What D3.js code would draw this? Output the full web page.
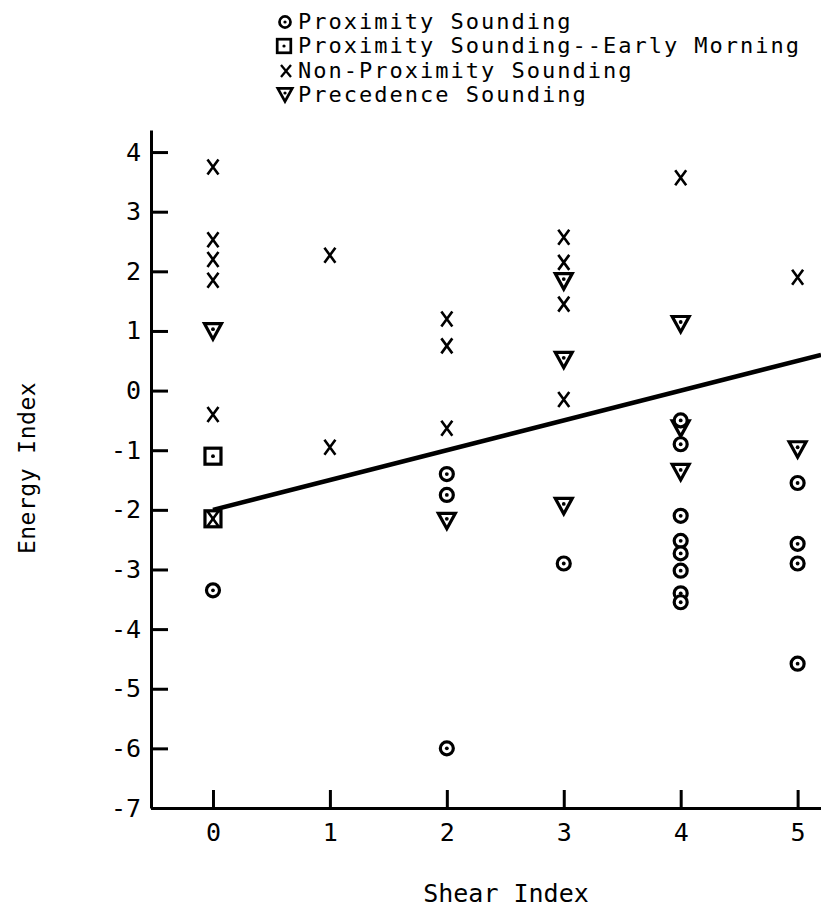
<!DOCTYPE html>
<html>
<head>
<meta charset="utf-8">
<script src="https://cdn.jsdelivr.net/npm/d3@7"></script>
<style>
body { margin: 0; background: #fff; }
text { font-family: "DejaVu Sans Mono", monospace; fill: #000; }
</style>
</head>
<body>
<div id="scatter"></div>
<script>
// values
var proxShear  = [0, 2, 2, 2, 3, 4, 4, 4, 4, 4, 4, 4, 4, 5, 5, 5, 5];
var proxEnergy = [-3.35, -1.4, -1.75, -6.0, -2.9, -0.5, -0.9, -2.1, -2.52, -2.73, -3.02, -3.4, -3.55, -1.55, -2.57, -2.9, -4.58];

var earlyShear  = [0, 0];
var earlyEnergy = [-1.1, -2.15];

var nonShear  = [0, 0, 0, 0, 0, 0, 1, 1, 2, 2, 2, 3, 3, 3, 3, 4, 5];
var nonEnergy = [3.75, 2.53, 2.2, 1.85, -0.4, -2.15, 2.27, -0.95, 1.2, 0.75, -0.63, 2.57, 2.15, 1.45, -0.15, 3.57, 1.9];

var precShear  = [0, 2, 3, 3, 3, 4, 4, 4, 5];
var precEnergy = [1.03, -2.15, 1.87, 0.55, -1.9, 1.15, -0.6, -1.33, -0.95];

var fitShear  = [0, 5.2];
var fitEnergy = [-2.0, 0.6];

var xTicks = [0, 1, 2, 3, 4, 5];
var yTicks = [4, 3, 2, 1, 0, -1, -2, -3, -4, -5, -6, -7];

var legendLabels = ["Proximity Sounding", "Proximity Sounding--Early Morning", "Non-Proximity Sounding", "Precedence Sounding"];

var svgWidth = 821;
var svgHeight = 909;

var margin = {
    top: 130,
    right: 0,
    bottom: 101,
    left: 151
};

var width = svgWidth - margin.left - margin.right;
var height = svgHeight - margin.top - margin.bottom;

var svg = d3.select("#scatter")
    .append("svg")
    .attr("width", svgWidth)
    .attr("height", svgHeight);

var chartGroup = svg.append("g")
    .attr("transform", `translate(${margin.left}, ${margin.top})`);

var xScale = d3.scaleLinear()
    .domain([-0.53, 5.2])
    .range([0, width]);

var yScale = d3.scaleLinear()
    .domain([-7, 4.37])
    .range([height, 0]);

var bottomAxis = d3.axisBottom(xScale)
    .tickValues(xTicks)
    .tickSize(-18)
    .tickSizeOuter(0)
    .tickPadding(15)
    .tickFormat(d => String(d));

var leftAxis = d3.axisLeft(yScale)
    .tickValues(yTicks)
    .tickSize(-17)
    .tickSizeOuter(0)
    .tickPadding(10)
    .tickFormat(d => String(d));

var xAxisG = chartGroup.append("g")
    .attr("transform", `translate(0, ${height})`)
    .call(bottomAxis);

var yAxisG = chartGroup.append("g")
    .call(leftAxis);

[xAxisG, yAxisG].forEach(function (g) {
    g.select(".domain").attr("stroke", "#000").attr("stroke-width", 3);
    g.selectAll(".tick line").attr("stroke", "#000").attr("stroke-width", 3);
    g.selectAll(".tick text")
        .attr("fill", "#000")
        .style("font-family", "'DejaVu Sans Mono', monospace")
        .style("font-size", "25px");
});

// regression line
var fitLine = d3.line()
    .x(d => xScale(d[0]))
    .y(d => yScale(d[1]));

chartGroup.append("path")
    .datum(d3.zip(fitShear, fitEnergy))
    .attr("d", fitLine)
    .attr("fill", "none")
    .attr("stroke", "#000")
    .attr("stroke-width", 4.5);

// marker drawing helpers
function drawCircle(g, cx, cy, s) {
    g.append("circle").attr("cx", cx).attr("cy", cy).attr("r", 6.5 * s)
        .attr("fill", "#fff").attr("stroke", "#000").attr("stroke-width", 3.2 * s);
    g.append("circle").attr("cx", cx).attr("cy", cy).attr("r", 1.9 * s).attr("fill", "#000");
}

function drawSquare(g, cx, cy, s) {
    var h = 8 * s;
    g.append("rect").attr("x", cx - h).attr("y", cy - h).attr("width", 2 * h).attr("height", 2 * h)
        .attr("fill", "none").attr("stroke", "#000").attr("stroke-width", 3.2 * s);
    g.append("circle").attr("cx", cx).attr("cy", cy).attr("r", 1.9 * s).attr("fill", "#000");
}

function drawCross(g, cx, cy, w, h, sw) {
    g.append("path")
        .attr("d", `M${cx - w},${cy - h}L${cx + w},${cy + h}M${cx + w},${cy - h}L${cx - w},${cy + h}`)
        .attr("fill", "none").attr("stroke", "#000").attr("stroke-width", sw);
}

function drawTriangle(g, cx, cy, s) {
    g.append("path")
        .attr("d", `M${cx - 8.5 * s},${cy - 5.5 * s}L${cx + 8.5 * s},${cy - 5.5 * s}L${cx},${cy + 10 * s}Z`)
        .attr("fill", "none").attr("stroke", "#000").attr("stroke-width", 3.2 * s)
        .attr("stroke-linejoin", "miter");
    g.append("circle").attr("cx", cx).attr("cy", cy).attr("r", 1.9 * s).attr("fill", "#000");
}

var marks = chartGroup.append("g");

nonShear.forEach(function (s, i) {
    drawCross(marks, xScale(s), yScale(nonEnergy[i]), 5.5, 7.5, 2.6);
});

earlyShear.forEach(function (s, i) {
    drawSquare(marks, xScale(s), yScale(earlyEnergy[i]), 1);
});

precShear.forEach(function (s, i) {
    drawTriangle(marks, xScale(s), yScale(precEnergy[i]), 1);
});

proxShear.forEach(function (s, i) {
    drawCircle(marks, xScale(s), yScale(proxEnergy[i]), 1);
});

// legend
var legend = svg.append("g");
var legendY = [29, 53, 78, 102];

legendLabels.forEach(function (label, i) {
    legend.append("text")
        .attr("x", 298)
        .attr("y", legendY[i])
        .style("font-size", "22px")
        .style("letter-spacing", "2px")
        .text(label);
});

drawCircle(legend, 285, 22, 0.85);
drawSquare(legend, 284, 46, 0.85);
drawCross(legend, 286, 71, 5, 6, 2.3);
drawTriangle(legend, 285, 93, 0.85);

// axis titles
svg.append("text")
    .attr("x", 506)
    .attr("y", 902)
    .attr("text-anchor", "middle")
    .style("font-size", "25px")
    .text("Shear Index");

svg.append("text")
    .attr("transform", "translate(35, 468) rotate(-90)")
    .attr("text-anchor", "middle")
    .style("font-size", "23px")
    .style("letter-spacing", "0.5px")
    .text("Energy Index");
</script>
</body>
</html>
